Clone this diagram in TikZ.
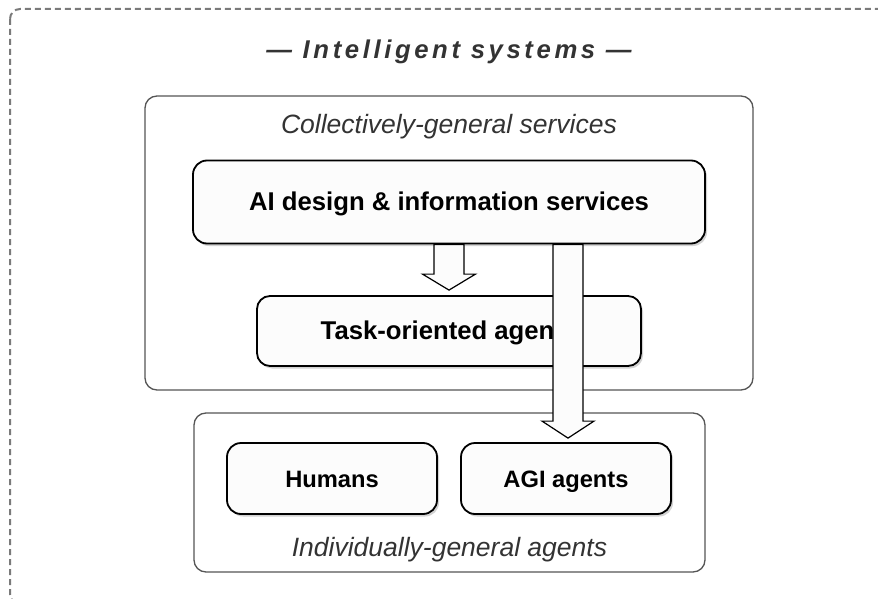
\documentclass[tikz,border=0pt]{standalone}
\usepackage{fontspec}
\setmainfont{Liberation Sans}
\newfontfamily\titlefont[LetterSpace=14]{Liberation Sans}
\usetikzlibrary{shadows,calc}
\definecolor{framec}{HTML}{7A7A7A}
\definecolor{contc}{HTML}{555555}
\definecolor{labc}{HTML}{333333}
\definecolor{boxfill}{HTML}{FCFCFC}
\begin{document}
\begin{tikzpicture}[x=1pt,y=-1pt,
  container/.style={draw=contc, line width=1.3pt, rounded corners=12pt, fill=white,
    minimum width=#1, inner sep=0pt},
  card/.style={draw=black, line width=1.8pt, rounded corners=14pt, fill=boxfill,
    drop shadow={shadow xshift=2pt, shadow yshift=-2.5pt, fill=black!35, opacity=0.5},
    text height=17pt, text depth=0pt, inner sep=0pt},
  bigtext/.style={font=\fontsize{25.7}{30}\selectfont\bfseries},
  smalltext/.style={font=\fontsize{23.7}{28}\selectfont\bfseries},
  grouplabel/.style={font=\fontsize{26.5}{30}\selectfont\itshape, text=labc, anchor=base, inner sep=0pt},
  blockarrow/.style={draw=black, line width=1.2pt, fill=boxfill, line join=miter},
  outerframe/.style={draw=framec, line width=2pt, dash pattern=on 6pt off 4pt, rounded corners=10pt}
]
\useasboundingbox (0,0) rectangle (878,599);

% outer dashed frame (extends past right and bottom edges)
\draw[outerframe] (10,9) rectangle (892,604);

% title
\node[font=\titlefont\fontsize{25.7}{30}\selectfont\bfseries\itshape, text=labc, anchor=base, inner sep=0pt]
  (title) at (449,59) {— Intelligent systems —};

% containers
\node[container=608pt, minimum height=294pt] (coll) at (449,243) {};
\node[container=511pt, minimum height=159pt] (indiv) at (449.5,492.5) {};

\node[grouplabel] (colllab) at (449,133.5) {Collectively-general services};
\node[grouplabel] (indivlab) at (449.5,556) {Individually-general agents};

% cards
\node[card, bigtext, minimum width=512pt, minimum height=83pt] (ai) at (449,202) {AI design \& information services};
\node[card, bigtext, minimum width=384pt, minimum height=70pt, rounded corners=13pt] (task) at (449,331) {Task-oriented agents};
\node[card, smalltext, minimum width=210pt, minimum height=71pt] (humans) at (332,478.5) {Humans};
\node[card, smalltext, minimum width=210pt, minimum height=71pt] (agi) at (566,478.5) {AGI agents};

% block arrows
\coordinate (a1s) at (ai.south);
\coordinate (a1t) at ($(task.north)+(0,-5)$);
\draw[blockarrow] ($(a1s)+(-15,0)$) -- ($(a1t)+(-15,-16)$) -- ($(a1t)+(-26.5,-16)$) -- (a1t)
  -- ($(a1t)+(26.5,-16)$) -- ($(a1t)+(15,-16)$) -- ($(a1s)+(15,0)$) -- cycle;

\coordinate (a2s) at ($(ai.south)+(119,0)$);
\coordinate (a2t) at ($(agi.north)+(2,-4)$);
\draw[blockarrow] ($(a2s)+(-15,0)$) -- ($(a2t)+(-15,-17)$) -- ($(a2t)+(-26,-17)$) -- (a2t)
  -- ($(a2t)+(26,-17)$) -- ($(a2t)+(15,-17)$) -- ($(a2s)+(15,0)$) -- cycle;
\end{tikzpicture}
\end{document}
